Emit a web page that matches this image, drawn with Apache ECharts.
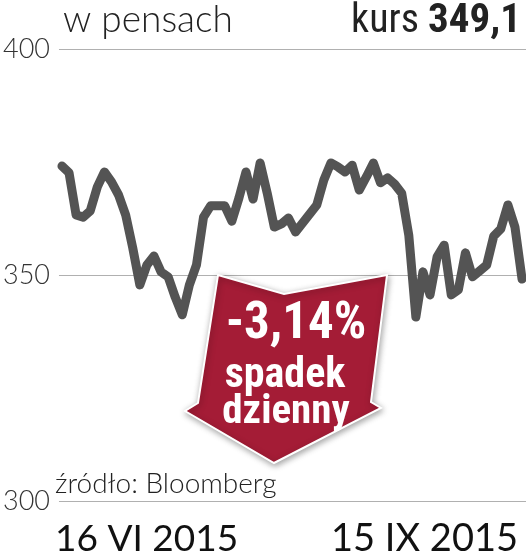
<!DOCTYPE html>
<html>
<head>
<meta charset="utf-8">
<script src="https://cdn.jsdelivr.net/npm/echarts@6/dist/echarts.min.js"></script>
<style>
  html, body { margin: 0; padding: 0; background: #fff; }
  #chart { width: 526px; height: 560px; }
</style>
</head>
<body>
<div id="chart"></div>
<script>
// Daily closing price in pence, 16 VI 2015 – 15 IX 2015
const prices = [
  374.1, 372.6, 363.3, 362.8, 364.2, 369.5, 372.8, 370.6, 367.7, 363.3,
  356.0, 347.8, 352.2, 354.2, 350.7, 349.6, 345.1, 341.2, 347.8, 352.2,
  362.8, 365.3, 365.3, 365.3, 361.9, 367.0, 372.8, 366.8, 374.8, 368.1,
  360.6, 361.3, 362.6, 359.5, 361.5, 363.5, 365.5, 371.0, 374.8, 373.9,
  372.8, 374.3, 368.8, 371.7, 374.8, 370.4, 371.5, 370.1, 368.1, 358.8,
  340.7, 350.7, 345.6, 354.0, 356.6, 345.6, 346.7, 354.9, 349.6, 350.9,
  352.2, 358.6, 360.2, 365.5, 360.6, 349.1
];
const dateLabels = ['16 VI 2015', '15 IX 2015'];
const yTicks = [300, 350, 400];
const unitLabel = 'w pensach';
const lastLabel = 'kurs';
const lastValue = '349,1';
const changeText = ['-3,14%', 'spadek', 'dzienny'];
const sourceText = 'źródło: Bloomberg';

const chart = echarts.init(document.getElementById('chart'), null, { renderer: 'canvas' });

const narrow = '"Liberation Sans Narrow", "Roboto Condensed", "DejaVu Sans Condensed", sans-serif';
const light = 'Lato, Roboto, sans-serif';

const option = {
  animation: false,
  backgroundColor: '#ffffff',
  grid: { left: 55, right: 0, top: 49, bottom: 59, containLabel: false },
  xAxis: {
    type: 'value',
    min: -0.42,
    max: prices.length - 1 + 0.56,
    show: false
  },
  yAxis: {
    type: 'value',
    min: yTicks[0],
    max: yTicks[yTicks.length - 1],
    interval: yTicks[1] - yTicks[0],
    axisLine: { show: false },
    axisTick: { show: false },
    axisLabel: {
      margin: 9,
      fontFamily: light,
      fontWeight: 300,
      fontSize: 27,
      color: '#333'
    },
    splitLine: { lineStyle: { color: '#b0b0b0', width: 1 } }
  },
  series: [{
    type: 'line',
    data: prices.map((v, i) => [i, v]),
    showSymbol: false,
    lineStyle: { color: '#545454', width: 9, cap: 'round', join: 'round' },
    z: 3
  }],
  graphic: [
    {
      type: 'text', left: 63, top: 2, z: 10,
      style: { text: unitLabel, font: '300 37px ' + light, fill: '#222' }
    },
    {
      type: 'text', right: 5, top: 1, z: 10,
      style: {
        text: '{a|' + lastLabel + ' }{b|' + lastValue + '}',
        rich: {
          a: { fontFamily: narrow, fontSize: 40, fontWeight: 'normal', fill: '#222', color: '#222' },
          b: { fontFamily: narrow, fontSize: 41, fontWeight: 'bold', fill: '#222', color: '#222' }
        }
      }
    },
    {
      type: 'polygon', z: 20,
      shape: { points: [[218, 275], [284, 294], [387, 275], [371, 402], [381, 408], [274, 463], [185, 411], [198, 403]] },
      style: {
        fill: '#a41c36', stroke: '#ffffff', lineWidth: 2,
        shadowBlur: 6, shadowColor: 'rgba(0,0,0,0.35)', shadowOffsetX: 1, shadowOffsetY: 2
      }
    },
    {
      type: 'text', x: 296, y: 325, z: 21,
      style: { text: changeText[0], font: 'bold 51px ' + narrow, fill: '#fff', align: 'center', verticalAlign: 'middle' }
    },
    {
      type: 'text', x: 285, y: 376, z: 21,
      style: { text: changeText[1], font: 'bold 42px ' + narrow, fill: '#fff', align: 'center', verticalAlign: 'middle' }
    },
    {
      type: 'text', x: 286, y: 413, z: 21,
      style: { text: changeText[2], font: 'bold 41px ' + narrow, fill: '#fff', align: 'center', verticalAlign: 'middle' }
    },
    {
      type: 'text', x: 55, y: 484, z: 10,
      style: { text: sourceText, font: '300 28px ' + light, fill: '#222', align: 'left', verticalAlign: 'middle' }
    },
    {
      type: 'text', x: 55, y: 539, z: 10,
      style: { text: dateLabels[0], font: '37px ' + light, fill: '#111', align: 'left', verticalAlign: 'middle' }
    },
    {
      type: 'text', x: 518, y: 539, z: 10,
      style: { text: dateLabels[1], font: '38px ' + light, fill: '#111', align: 'right', verticalAlign: 'middle' }
    }
  ]
};
chart.setOption(option);
</script>
</body>
</html>
